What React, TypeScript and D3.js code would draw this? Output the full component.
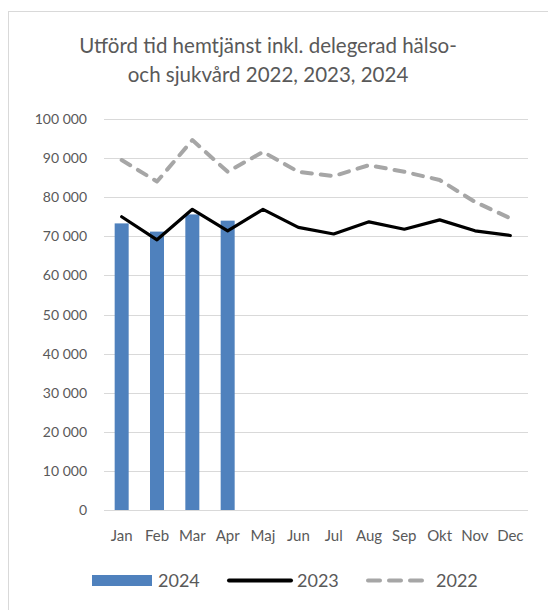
import React, { useMemo } from 'react';
import * as d3 from 'd3';

const months = ['Jan', 'Feb', 'Mar', 'Apr', 'Maj', 'Jun', 'Jul', 'Aug', 'Sep', 'Okt', 'Nov', 'Dec'];
const values2024 = [73300, 71200, 75600, 74000];
const values2023 = [75000, 69100, 76900, 71400, 76900, 72300, 70600, 73700, 71800, 74200, 71400, 70200];
const values2022 = [89500, 84000, 94600, 86500, 91600, 86500, 85400, 88200, 86500, 84400, 78800, 74600];
const yTicks = [0, 10000, 20000, 30000, 40000, 50000, 60000, 70000, 80000, 90000, 100000];
const titleLines = ['Utförd tid hemtjänst inkl. delegerad hälso-', 'och sjukvård 2022, 2023, 2024'];

const W = 548;
const H = 610;
const plot = { left: 104, right: 528, top: 119, bottom: 510 };
const font = 'Lato, "Open Sans", sans-serif';
const textColor = '#595959';

const fmt = (v: number) => d3.format(',')(v).replace(/,/g, ' ');

const App = () => {
  const { x, y } = useMemo(() => {
    const xScale = d3.scaleBand<string>()
      .domain(months)
      .range([plot.left, plot.right]);
    const yScale = d3.scaleLinear()
      .domain([0, 100000])
      .range([plot.bottom, plot.top]);
    return { x: xScale, y: yScale };
  }, []);

  const cx = (m: string) => (x(m) || 0) + x.bandwidth() / 2;

  const line = d3.line<number>()
    .x((_, i) => cx(months[i]))
    .y((d) => y(d));

  const bw = 14;

  return (
    <svg width={W} height={H} style={{ position: 'absolute', left: 0, top: 0, background: '#fff' }}>
      <rect x={8.5} y={11.5} width={W + 20} height={H} fill="#fff" stroke="#d9d9d9" />

      {titleLines.map((t, i) => (
        <text key={i} x={268} y={53 + i * 29} textAnchor="middle" fontFamily={font} fontSize={20.5} fill={textColor}>
          {t}
        </text>
      ))}

      {yTicks.map((t) => (
        <g key={t}>
          <line x1={plot.left} x2={plot.right} y1={Math.round(y(t)) + 0.5} y2={Math.round(y(t)) + 0.5} stroke="#d9d9d9" strokeWidth={1} />
          <text x={87} y={y(t) + 5} textAnchor="end" fontFamily={font} fontSize={14} fill={textColor}>
            {fmt(t)}
          </text>
        </g>
      ))}

      {values2024.map((v, i) => (
        <rect key={i} x={cx(months[i]) - bw / 2} y={y(v)} width={bw} height={y(0) - y(v)} fill="#4f81bd" />
      ))}

      <path d={line(values2022) || ''} fill="none" stroke="#a6a6a6" strokeWidth={4} strokeDasharray="10 9" strokeLinecap="round" strokeLinejoin="round" />
      <path d={line(values2023) || ''} fill="none" stroke="#000" strokeWidth={3.2} strokeLinejoin="round" strokeLinecap="round" />

      {months.map((m) => (
        <text key={m} x={cx(m)} y={541} textAnchor="middle" fontFamily={font} fontSize={15} fill={textColor}>
          {m}
        </text>
      ))}

      <g fontFamily={font} fontSize={18} fill={textColor}>
        <rect x={92} y={575} width={60} height={11} fill="#4f81bd" />
        <text x={158} y={587}>2024</text>
        <line x1={229} x2={291} y1={580.5} y2={580.5} stroke="#000" strokeWidth={4} strokeLinecap="round" />
        <text x={297} y={587}>2023</text>
        <line x1={368} x2={422} y1={580.5} y2={580.5} stroke="#a6a6a6" strokeWidth={4} strokeDasharray="12 9" strokeLinecap="round" />
        <text x={436} y={587}>2022</text>
      </g>
    </svg>
  );
};

export default App;
